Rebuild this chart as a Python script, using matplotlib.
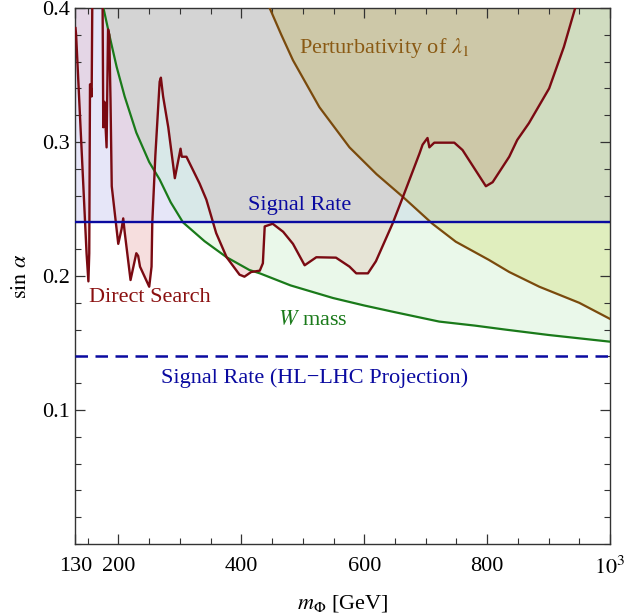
"""
## Constraints on the mixing angle sin(alpha) versus scalar mass m_Phi.
"""

import numpy as np
import matplotlib
matplotlib.use('Agg')
from matplotlib.figure import Figure
from matplotlib.ticker import FixedLocator, MultipleLocator

## Serif text and stix maths to look like the original figure.
matplotlib.rcParams['font.family'] = 'serif'
matplotlib.rcParams['font.serif'] = ['Liberation Serif', 'DejaVu Serif']
matplotlib.rcParams['mathtext.fontset'] = 'stix'

## W mass bound, excluded above the curve.
mW = [175, 185, 197, 210, 229, 250, 267, 285, 305, 340, 376, 413, 430,
      480, 549, 600, 650, 722, 780, 830, 900, 1000]
sW = [0.401, 0.380, 0.356, 0.334, 0.307, 0.285, 0.272, 0.255, 0.240,
      0.226, 0.214, 0.2045, 0.202, 0.193, 0.1836, 0.178, 0.173, 0.166,
      0.163, 0.160, 0.156, 0.151]

## Perturbativity of lambda_1, excluded above the curve.
mP = [446, 465, 484, 527, 576, 620, 663, 711, 749, 803, 836, 885, 950, 1000]
sP = [0.400, 0.380, 0.361, 0.326, 0.296, 0.276, 0.259, 0.239, 0.2256,
      0.212, 0.203, 0.192, 0.180, 0.168]

## Direct search bound, excluded above the curve.
mD = [130, 131, 148, 151, 152.4, 153.6, 154.5, 156.3, 157.3, 165, 174,
      175.2, 177, 180.6, 183, 185, 187, 189, 199.6, 205, 207.7, 210,
      219.6, 229, 232, 235, 250, 253.8, 255, 260, 267, 269, 272.6, 281,
      291.7, 301, 303, 310.6, 332, 343, 359, 376, 397, 405, 416, 430,
      435, 438, 451, 468, 484, 503, 522, 554, 576, 587, 606, 619, 646,
      663, 690, 695, 703, 706, 714, 746.6, 760, 798, 809, 836, 849, 868,
      901, 925, 944, 1000]
sD = [0.385, 0.38, 0.217, 0.196, 0.217, 0.343, 0.343, 0.334, 0.40, 0.45,
      0.41, 0.311, 0.33, 0.296, 0.384, 0.38, 0.331, 0.267, 0.224, 0.235,
      0.243, 0.233, 0.197, 0.217, 0.215, 0.207, 0.192, 0.207, 0.24, 0.29,
      0.345, 0.348, 0.334, 0.311, 0.273, 0.295, 0.289, 0.289, 0.269,
      0.257, 0.232, 0.214, 0.201, 0.1995, 0.203, 0.204, 0.2095, 0.237,
      0.239, 0.233, 0.224, 0.208, 0.214, 0.2137, 0.207, 0.202, 0.202,
      0.211, 0.239, 0.259, 0.2915, 0.298, 0.303, 0.296, 0.2995, 0.2995,
      0.294, 0.267, 0.270, 0.289, 0.3015, 0.314, 0.340, 0.371, 0.401, 0.5]

## Signal rate bounds (current and HL-LHC projection).
sSR = 0.24
sHL = 0.14

## Axis range and ticks.
xrng = [130, 1000]
yrng = [0.0, 0.4]
xtks = [130, 200, 400, 600, 800, 1000]
xlbs = ['130', '200', '400', '600', '800', r'$10^3$']
ytks = [0.1, 0.2, 0.3, 0.4]
ylbs = ['0.1', '0.2', '0.3', '0.4']

def main():

## Colours of the curves and labels.
    cred = '#7a0a12'
    cblu = '#0a0aa0'
    cgrn = '#1a7a1a'
    cbrn = '#7a4a0c'
    fntsz = 16

## Shade for each overlap of excluded regions.
## Index = W*1 + SR*2 + DS*4 + P*8.
    pal = np.array([
        (255, 255, 255), (234, 248, 234), (230, 230, 248), (216, 232, 232),
        (246, 222, 222), (230, 228, 214), (228, 214, 230), (212, 212, 212),
        (240, 240, 200), (224, 238, 190), (220, 220, 200), (208, 220, 192),
        (230, 220, 200), (218, 216, 180), (215, 205, 190), (205, 200, 168),
        ]) / 255.0

    fig = Figure(figsize=(6.26, 6.15), dpi=100)
    ax = fig.add_axes([0.1206, 0.1154, 0.8538, 0.8716])

## Excluded regions on a fine grid, coloured by which bounds apply.
    mg = np.linspace(xrng[0], xrng[1], 1741)
    sg = np.linspace(yrng[0], yrng[1], 801)
    bW = np.interp(mg, mW, sW, left=9.0, right=sW[-1])
    bD = np.interp(mg, mD, sD)
    bP = np.interp(mg, mP, sP, left=9.0, right=sP[-1])
    S = sg[:, None]
    code = ((S > bW[None, :]) * 1 + (S > sSR) * 2
            + (S > bD[None, :]) * 4 + (S > bP[None, :]) * 8)
    ax.imshow(pal[code], extent=[xrng[0], xrng[1], yrng[0], yrng[1]],
              origin='lower', aspect='auto', interpolation='nearest',
              zorder=0)

## Boundary curves.
    ax.plot(mW, sW, color=cgrn, lw=1.6, zorder=3)
    ax.plot(mP, sP, color=cbrn, lw=1.6, zorder=3)
    ax.plot(mD, sD, color=cred, lw=1.7, zorder=4)
    ax.axhline(sSR, color=cblu, lw=1.7, zorder=5)
    ax.axhline(sHL, color=cblu, lw=1.8, ls=(0, (5, 3)), zorder=5)

## Region labels.
    ax.text(633, 0.370, r'Perturbativity of $\lambda_1$', color='#8a5a14',
            fontsize=fntsz, ha='center', va='center')
    ax.text(495, 0.2525, 'Signal Rate', color=cblu, fontsize=fntsz,
            ha='center', va='center')
    ax.text(251, 0.1836, 'Direct Search', color='#8a1010', fontsize=fntsz,
            ha='center', va='center')
    ax.text(516, 0.167, r'$W$ mass', color=cgrn, fontsize=fntsz,
            ha='center', va='center')
    ax.text(519, 0.124, 'Signal Rate (HL\u2212LHC Projection)', color=cblu,
            fontsize=fntsz, ha='center', va='center')

## Axis ranges, ticks and labels.
    ax.set_xlim(xrng)
    ax.set_ylim(yrng)
    ax.xaxis.set_major_locator(FixedLocator(xtks))
    ax.set_xticklabels(xlbs)
    ax.xaxis.set_minor_locator(FixedLocator(
        [m for m in range(150, 1000, 50) if m not in xtks]))
    ax.yaxis.set_major_locator(FixedLocator(ytks))
    ax.set_yticklabels(ylbs)
    ax.yaxis.set_minor_locator(MultipleLocator(0.02))
    ax.tick_params(which='both', direction='in', top=True, right=True,
                   labelsize=fntsz, color='#333333')
    ax.tick_params(axis='x', pad=9)
    ax.tick_params(axis='y', pad=4)
    ax.tick_params(which='major', length=7, width=0.9)
    ax.tick_params(which='minor', length=4, width=0.8)
    for sp in ax.spines.values():
        sp.set_color('#333333')
        sp.set_linewidth(1.0)

    ax.set_xlabel(r'$m_\Phi$ [GeV]', fontsize=fntsz, labelpad=10)
    ax.set_ylabel(r'$\sin\,\alpha$', fontsize=fntsz, labelpad=8)

    fig.savefig('out.png', dpi=100, facecolor='w')

if __name__ == '__main__':
    main()
